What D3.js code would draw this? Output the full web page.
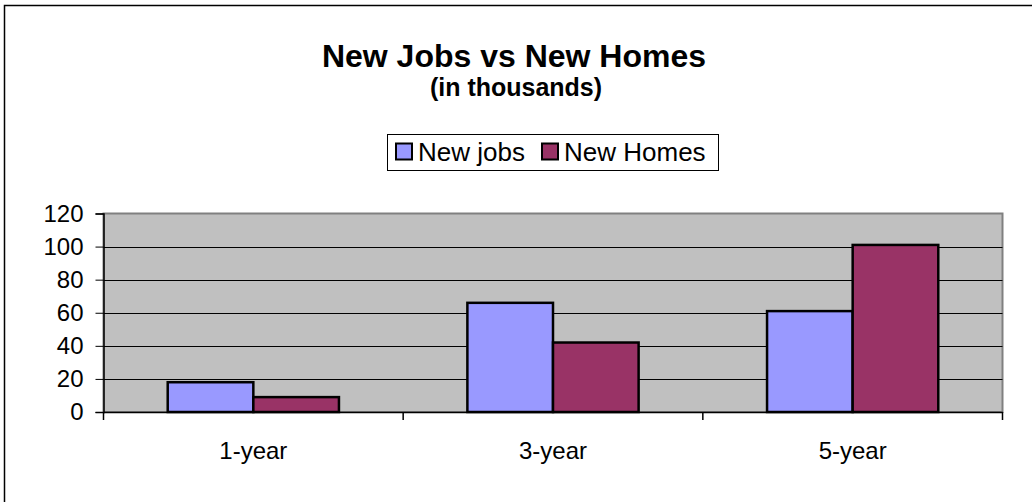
<!DOCTYPE html>
<html>
<head>
<meta charset="utf-8">
<script src="https://cdn.jsdelivr.net/npm/d3@7"></script>
<style>
  body { margin: 0; background: #fff; }
  text { font-family: "Liberation Sans", Arial, sans-serif; }
</style>
</head>
<body>
<svg id="chart" width="1032" height="502"></svg>
<script>
// chart data
const categories = ["1-year", "3-year", "5-year"];
const seriesNames = ["New jobs", "New Homes"];
const newJobs = [18, 66, 61];
const newHomes = [9, 42, 101];
const yTicks = [0, 20, 40, 60, 80, 100, 120];
const colors = ["#9999ff", "#993366"];

document.addEventListener("DOMContentLoaded", () => {
  const svg = d3.select("#chart");
  const plot = { left: 103.5, right: 1002.5, top: 213.5, bottom: 412 };

  // outer chart frame (right/bottom fall outside the window)
  svg.append("rect")
    .attr("x", 4.5).attr("y", 5.5)
    .attr("width", 1100).attr("height", 600)
    .attr("fill", "none").attr("stroke", "#000").attr("stroke-width", 1.5);

  // titles
  svg.append("text")
    .attr("x", 514).attr("y", 67)
    .attr("text-anchor", "middle")
    .style("font-size", "32px").style("font-weight", "bold")
    .text("New Jobs vs New Homes");
  svg.append("text")
    .attr("x", 516).attr("y", 96)
    .attr("text-anchor", "middle")
    .style("font-size", "25px").style("font-weight", "bold")
    .text("(in thousands)");

  const x0 = d3.scaleBand().domain(categories).range([plot.left, plot.right]).padding(0);
  const x1 = d3.scaleBand().domain(seriesNames).range([0, x0.bandwidth()])
    .paddingInner(0).paddingOuter(0.75);
  const y = d3.scaleLinear().domain([0, 120]).range([plot.bottom, plot.top]);

  // plot background
  svg.append("rect")
    .attr("x", plot.left).attr("y", plot.top)
    .attr("width", plot.right - plot.left).attr("height", plot.bottom - plot.top)
    .attr("fill", "#c0c0c0").attr("stroke", "#808080").attr("stroke-width", 2);

  // gridlines
  svg.append("g").selectAll("line")
    .data(yTicks.filter(d => d > 0 && d < 120))
    .enter().append("line")
    .attr("x1", plot.left).attr("x2", plot.right)
    .attr("y1", d => Math.round(y(d)) + 0.5).attr("y2", d => Math.round(y(d)) + 0.5)
    .attr("stroke", "#000").attr("stroke-width", 1);

  // bars
  const rows = categories.map((c, i) => ({ cat: c, vals: [newJobs[i], newHomes[i]] }));
  const grp = svg.append("g").selectAll("g")
    .data(rows).enter().append("g")
    .attr("transform", d => `translate(${x0(d.cat)},0)`);
  grp.selectAll("rect")
    .data(d => d.vals.map((v, j) => ({ name: seriesNames[j], v, j })))
    .enter().append("rect")
    .attr("x", d => x1(d.name))
    .attr("y", d => y(d.v))
    .attr("width", x1.bandwidth())
    .attr("height", d => y(0) - y(d.v))
    .attr("fill", d => colors[d.j])
    .attr("stroke", "#000").attr("stroke-width", 2.5);

  // y axis
  const yAxis = svg.append("g")
    .attr("transform", `translate(${plot.left},0)`)
    .call(d3.axisLeft(y).tickValues(yTicks).tickSize(8).tickPadding(12));
  yAxis.select(".domain").attr("stroke", "#000").attr("stroke-width", 1.5);
  yAxis.selectAll(".tick line").attr("stroke", "#000");
  yAxis.selectAll(".tick text")
    .style("font-size", "24px").attr("fill", "#000")
    .attr("font-family", null);

  // x axis
  const xAxis = svg.append("g")
    .attr("transform", `translate(0,${plot.bottom})`)
    .call(d3.axisBottom(x0).tickSize(0).tickPadding(30));
  xAxis.select(".domain").attr("stroke", "#000").attr("stroke-width", 1.5);
  xAxis.selectAll(".tick text")
    .style("font-size", "24px").attr("fill", "#000")
    .attr("font-family", null);
  // category separator ticks
  const seps = categories.map(c => x0(c)).concat([plot.right]);
  xAxis.append("g").selectAll("line")
    .data(seps).enter().append("line")
    .attr("x1", d => d).attr("x2", d => d)
    .attr("y1", 0).attr("y2", 8)
    .attr("stroke", "#000").attr("stroke-width", 1.5);

  // legend
  const lg = svg.append("g");
  lg.append("rect")
    .attr("x", 387.5).attr("y", 134.5).attr("width", 331).attr("height", 36)
    .attr("fill", "#fff").attr("stroke", "#000").attr("stroke-width", 1);
  const legendX = [396, 542];
  seriesNames.forEach((name, i) => {
    lg.append("rect")
      .attr("x", legendX[i]).attr("y", 143.5).attr("width", 16).attr("height", 16)
      .attr("fill", colors[i]).attr("stroke", "#000").attr("stroke-width", 2);
    lg.append("text")
      .attr("x", legendX[i] + 22).attr("y", 161)
      .style("font-size", "26px")
      .text(name);
  });
});
</script>
</body>
</html>
